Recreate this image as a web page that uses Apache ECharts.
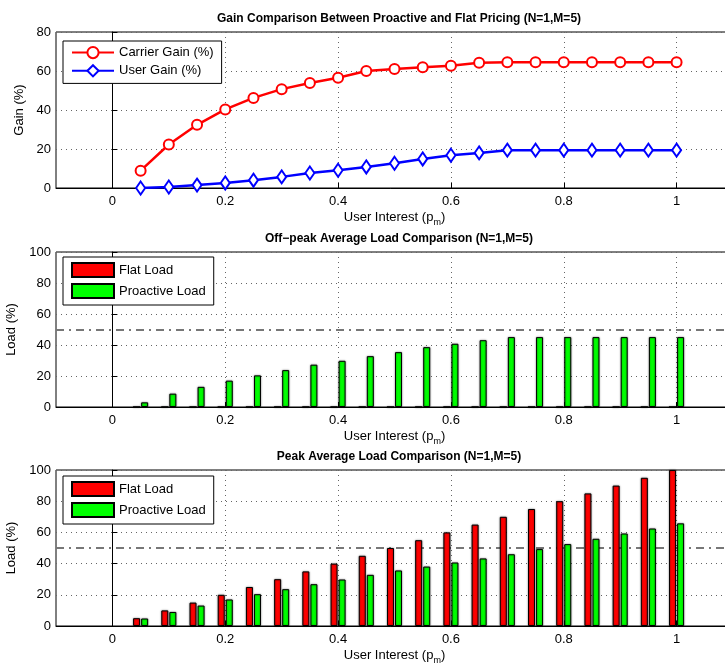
<!DOCTYPE html>
<html><head><meta charset="utf-8">
<script src="https://cdn.jsdelivr.net/npm/echarts@6/dist/echarts.min.js"></script>
<style>html,body{margin:0;padding:0;background:#fff;}#c{width:725px;height:663px;}</style>
</head><body><div id="c"></div>
<script>
const xs = [0.05,0.1,0.15,0.2,0.25,0.3,0.35,0.4,0.45,0.5,0.55,0.6,0.65,0.7,0.75,0.8,0.85,0.9,0.95,1.0];
const carrierGain = [8.9,22.3,32.4,40.3,46.2,50.7,53.8,56.5,60.0,61.0,61.9,62.7,64.2,64.5,64.5,64.5,64.5,64.5,64.5,64.5];
const userGain = [0,0.5,1.5,2.6,4.0,5.7,7.7,9.1,10.8,12.7,14.9,16.8,18.0,19.4,19.4,19.4,19.4,19.4,19.4,19.4];
const offFlat = [0,0,0,0,0,0,0,0,0,0,0,0,0,0,0,0,0,0,0,0];
const offProactive = [3.0,8.6,13.0,17.0,20.4,23.8,27.3,29.8,32.8,35.4,38.6,40.8,43.1,45.1,45.1,45.1,45.1,45.1,45.1,45.1];
const peakFlat = [5,10,15,20,25,30,35,40,45,50,55,60,65,70,75,80,85,90,95,100];
const peakProactive = [4.8,9.0,13.1,17.0,20.4,23.6,26.8,29.8,32.8,35.6,38.1,40.7,43.3,46.0,49.3,52.5,55.9,59.3,62.5,65.8];
const xTicks = [0,0.2,0.4,0.6,0.8,1];
const threshold = 50;

const pairs = (v) => xs.map((x,i)=>[x, v[i]]);
const FONT = 'Liberation Sans';
const grids = [
  {left:56, top:32, height:156, width:677},
  {left:56, top:252, height:155, width:677},
  {left:56, top:470, height:156, width:677}
];
const titles = ['Gain Comparison Between Proactive and Flat Pricing (N=1,M=5)',
  'Off\u2212peak Average Load Comparison (N=1,M=5)',
  'Peak Average Load Comparison (N=1,M=5)'];
const titleTops = [8, 228, 446];

function xAxis(i){
  return {type:'value', gridIndex:i, min:-0.1, max:1.1,
    name:'User Interest (p{sub|m})', nameLocation:'middle', nameGap:20,
    nameTextStyle:{fontFamily:FONT, fontSize:13, color:'#000', rich:{sub:{fontFamily:FONT,fontSize:9,color:'#000',padding:[10,0,0,0]}}},
    axisLine:{lineStyle:{color:'#000'}},
    axisTick:{inside:true, length:5, customValues:xTicks, lineStyle:{color:'#000'}},
    axisLabel:{customValues:xTicks, fontFamily:FONT, fontSize:13, color:'#000', margin:7, formatter:(v)=>String(+v.toFixed(1))},
    splitLine:{show:true, lineStyle:{color:'#666', type:[1,4]}}
  };
}
function yAxis(i, max, name, gap){
  return {type:'value', gridIndex:i, min:0, max:max, interval:20,
    name:name, nameLocation:'middle', nameGap:gap,
    nameTextStyle:{fontFamily:FONT, fontSize:13, color:'#000'},
    axisLine:{show:true, lineStyle:{color:'#000'}},
    axisTick:{show:true, inside:true, length:5, lineStyle:{color:'#000'}},
    axisLabel:{fontFamily:FONT, fontSize:13, color:'#000', margin:5},
    splitLine:{show:true, lineStyle:{color:'#666', type:[1,4]}}
  };
}
const legendBase = {orient:'vertical', left:63, itemWidth:42, itemHeight:14, itemGap:5,
  padding:[5,8,6,8], borderColor:'#000', borderWidth:1, backgroundColor:'#fff',
  textStyle:{fontFamily:FONT, fontSize:13, color:'#000'}};

function barSeries(name, color, data, gi){
  return {type:'bar', name:name, xAxisIndex:gi, yAxisIndex:gi, data:pairs(data), barWidth:7, barGap:'15%',
    itemStyle:{color:color, borderColor:'#000', borderWidth:1, shadowColor:'rgba(0,0,0,0.45)', shadowBlur:2},
    emphasis:{disabled:true}};
}
const markLine = {silent:true, symbol:'none', label:{show:false}, z:1,
  lineStyle:{color:'#777', width:2, type:[8,5,2,5]}, data:[{yAxis:threshold}]};

const s2 = barSeries('Flat Load','#ff0000', offFlat, 1);
const s3 = barSeries('Proactive Load','#00ff00', offProactive, 1);
s3.markLine = markLine;
const s4 = barSeries('Flat Load','#ff0000', peakFlat, 2);
const s5 = barSeries('Proactive Load','#00ff00', peakProactive, 2);
s5.markLine = markLine;

const option = {
  animation:false,
  backgroundColor:'#fff',
  title: titles.map((t,i)=>({text:t, left:394, textAlign:'center', top:titleTops[i],
    textStyle:{fontFamily:FONT, fontSize:12, fontWeight:'bold', color:'#000'}})),
  grid: grids.map(g=>Object.assign({show:true, borderColor:'#000', borderWidth:1, backgroundColor:'#fff',
    containLabel:false, outerBoundsMode:'none'}, g)),
  xAxis:[xAxis(0), xAxis(1), xAxis(2)],
  yAxis:[yAxis(0,80,'Gain (%)',25), yAxis(1,100,'Load (%)',35), yAxis(2,100,'Load (%)',35)],
  legend:[
    Object.assign({}, legendBase, {top:41, data:['Carrier Gain (%)','User Gain (%)']}),
    Object.assign({}, legendBase, {top:257, data:[{name:'Flat Load', icon:'rect'},{name:'Proactive Load', icon:'rect'}]}),
    Object.assign({}, legendBase, {top:476, data:[{name:'Flat Load', icon:'rect'},{name:'Proactive Load', icon:'rect'}]})
  ],
  series:[
    {type:'line', name:'Carrier Gain (%)', xAxisIndex:0, yAxisIndex:0, data:pairs(carrierGain),
      symbol:'emptyCircle', symbolSize:10, lineStyle:{color:'#ff0000', width:2.5},
      itemStyle:{color:'#ff0000', borderWidth:2.5}},
    {type:'line', name:'User Gain (%)', xAxisIndex:0, yAxisIndex:0, data:pairs(userGain),
      symbol:'emptyDiamond', symbolSize:[9,13], lineStyle:{color:'#0000ff', width:2.5},
      itemStyle:{color:'#0000ff', borderWidth:2.5}},
    s2, s3, s4, s5
  ]
};
const chart = echarts.init(document.getElementById('c'), null, {renderer:'canvas'});
chart.setOption(option);
</script></body></html>
